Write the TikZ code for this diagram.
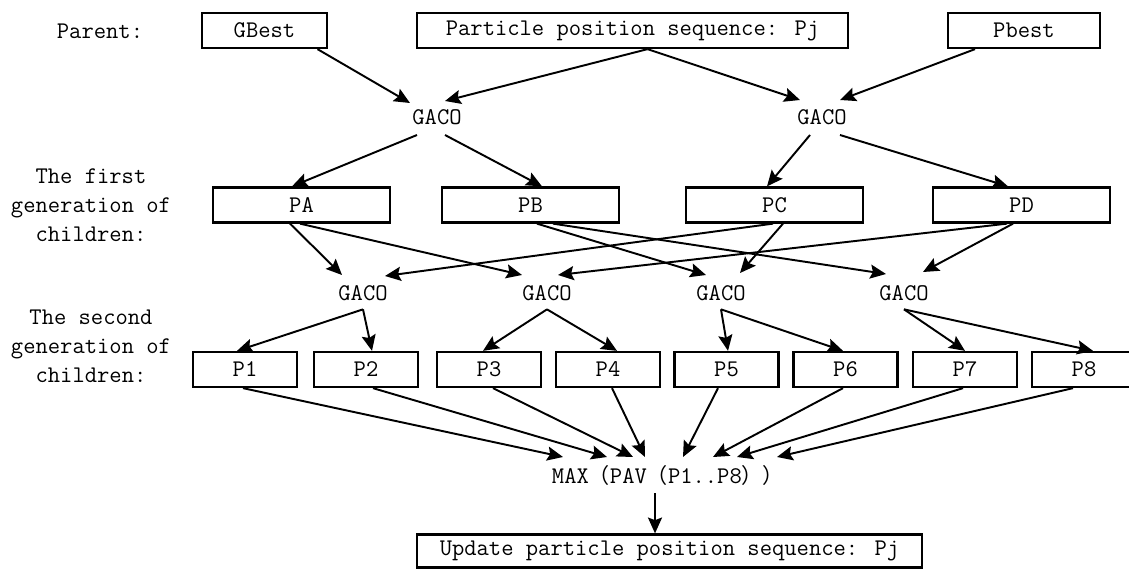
\documentclass[tikz,border=0pt]{standalone}
\usepackage{fontspec}
\newfontfamily\cjkfont{Noto Sans CJK SC}
\usetikzlibrary{arrows.meta,calc}

\tikzset{
  box/.style={draw, line width=1.3pt, inner sep=0pt, minimum height=7mm},
  gaco/.style={inner sep=0pt, minimum width=10mm, minimum height=6.4mm},
  conn/.style={line width=1.1pt, -{Stealth[length=9pt,width=8pt,inset=1.5pt]}},
}

\begin{document}
\begin{tikzpicture}[x=0.2mm,y=-0.2mm,font=\ttfamily\fontsize{13.6}{16.4}\selectfont]
\useasboundingbox (0,0) rectangle (1129,568);

\node (lparent) at (100,31) {Parent:};
\node[align=center] (lfirst) at (91,205) {The first\\generation of\\children:};
\node[align=center] (lsecond) at (91,346) {The second\\generation of\\children:};

\node[box, minimum width=25mm] (gbest) at (264.5,30.5) {GBest};
\node[box, minimum width=86.2mm] (pj) at (632.5,30.5) {Particle position sequence: Pj};
\node[box, minimum width=30.4mm] (pbest) at (1024,30.5) {Pbest};

\node[gaco] (gacoL) at (437,117) {GACO};
\node[gaco] (gacoR) at (822,117) {GACO};

\node[box, minimum width=35.4mm] (pa) at (301.5,205) {PA};
\node[box, minimum width=35.4mm] (pb) at (530.5,205) {PB};
\node[box, minimum width=35.4mm] (pc) at (774.5,205) {PC};
\node[box, minimum width=35.4mm] (pd) at (1021.5,205) {PD};

\foreach \i/\x in {1/363,2/547,3/721,4/904}
  \node[gaco] (g\i) at (\x,293) {GACO};

\foreach \i/\x in {1/245,2/366,3/489,4/608,5/726.5,6/845.5,7/965,8/1084}
  \node[box, minimum width=20.8mm] (p\i) at (\x,369.5) {P\i};

\node (maxpav) at (668,475) {MAX{\cjkfont\fontsize{12}{16}\selectfont （}PAV{\cjkfont\fontsize{12}{16}\selectfont （}P1..P8{\cjkfont\fontsize{12}{16}\selectfont ））}};
\node[box, minimum width=101mm, minimum height=6.6mm] (upd) at (669.5,551) {Update particle position sequence: Pj};

\draw[conn] ($(gbest.south)+(53,0)$) -- ($(gacoL)+(-27,-14)$);
\draw[conn] ($(pj.south)+(15,0)$) -- ($(gacoL)+(8,-16)$);
\draw[conn] ($(pj.south)+(15,0)$) -- ($(gacoR)+(-22,-17)$);
\draw[conn] ($(pbest.south)+(-49,0)$) -- ($(gacoR)+(18,-17)$);

\draw[conn] ($(gacoL)+(-20,18)$) -- ($(pa.north)+(-9.5,0)$);
\draw[conn] ($(gacoL)+(8,18)$) -- ($(pb.north)+(11.5,0)$);
\draw[conn] ($(gacoR)+(-12,18)$) -- ($(pc.north)+(-7.5,0)$);
\draw[conn] ($(gacoR)+(18,18)$) -- ($(pd.north)+(-13.5,0)$);

\draw[conn] ($(pa.south)+(-11.5,0)$) -- ($(g1)+(-21,-18)$);
\draw[conn] ($(pa.south)+(-1.5,0)$) -- ($(g2)+(-25,-18)$);
\draw[conn] ($(pb.south)+(6.5,0)$) -- ($(g3)+(-15,-18)$);
\draw[conn] ($(pb.south)+(22.5,0)$) -- ($(g4)+(-18,-19)$);
\draw[conn] ($(pc.south)+(-1.5,0)$) -- ($(g1)+(22,-17)$);
\draw[conn] ($(pc.south)+(8.5,0)$) -- ($(g3)+(19,-20)$);
\draw[conn] ($(pd.south)+(-14.5,0)$) -- ($(g2)+(11,-18)$);
\draw[conn] ($(pd.south)+(-8.5,0)$) -- ($(g4)+(19,-21)$);

\foreach \g/\p/\d in {g1/p1/-8,g1/p2/6,g2/p3/-6,g2/p4/9,g3/p5/1.5,g3/p6/-2.5,g4/p7/0,g4/p8/9}
  \draw[conn] (\g.south) -- ($(\p.north)+(\d,0)$);

\foreach \p/\s/\t in {p1/-2/-105,p2/7/-61,p3/4/-35,p4/4/-23,p5/-8.5/15,p6/-2.5/45,p7/-2/69,p8/-11/109}
  \draw[conn] ($(\p.south)+(\s,0)$) -- ($(maxpav)+(\t,-18)$);

\draw[conn] ($(maxpav)+(-13,18)$) -- ($(upd.north)+(-14.5,0)$);
\end{tikzpicture}
\end{document}
